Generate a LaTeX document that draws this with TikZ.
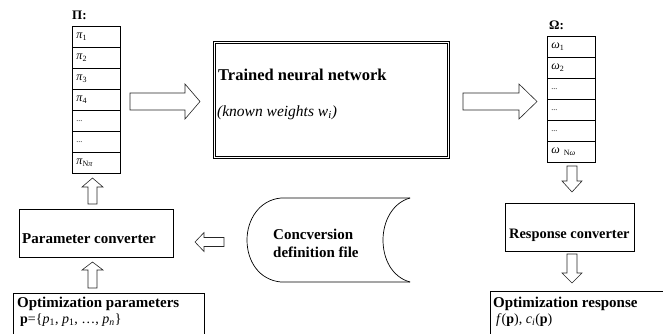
\documentclass[tikz,border=0pt]{standalone}
\usepackage{fontspec}
\setmainfont{Liberation Serif}
\newcommand\BlockArrowH[6]{% x-start, x-tip, x-headbase, y-centre, shaft half-width, head half-width
  \draw[blk] ({#1},{#4-#5}) -- ({#3},{#4-#5}) -- ({#3},{#4-#6}) -- ({#2},{#4})
    -- ({#3},{#4+#6}) -- ({#3},{#4+#5}) -- ({#1},{#4+#5}) -- cycle;}
\newcommand\BlockArrowV[6]{% y-start, y-tip, y-headbase, x-centre, shaft half-width, head half-width
  \draw[blk] ({#4-#5},{#1}) -- ({#4-#5},{#3}) -- ({#4-#6},{#3}) -- ({#4},{#2})
    -- ({#4+#6},{#3}) -- ({#4+#5},{#3}) -- ({#4+#5},{#1}) -- cycle;}
\begin{document}
\begin{tikzpicture}[x=1pt,y=-1pt,
  blk/.style={draw=black!85,line width=0.6pt,fill=white,line join=miter},
  cell/.style={draw,line width=0.7pt,minimum height=21pt,text width=40pt,
    inner xsep=4pt,inner ysep=0pt,align=left,anchor=north west,
    font=\fontsize{12}{14}\selectfont},
  box/.style={draw,line width=0.7pt,anchor=north west,inner sep=0pt},
  lbl/.style={font=\fontsize{15}{17}\selectfont\bfseries,inner sep=0pt,anchor=west},
  sub/.style={font=\fontsize{14}{16}\selectfont,inner sep=0pt,anchor=west},
  head/.style={font=\fontsize{13}{15}\selectfont\bfseries,inner sep=0pt,anchor=west}]
\useasboundingbox (0,0) rectangle (663,333);
\clip (0,0) rectangle (663,333);

% ---- input vector Pi ----
\node[head] (pilab) at (72,15) {Π:};
\node[cell] (p1) at (72,26) {\textit{π}\textsubscript{1}};
\node[cell] (p2) at (72,47) {\textit{π}\textsubscript{2}};
\node[cell] (p3) at (72,68) {\textit{π}\textsubscript{3}};
\node[cell] (p4) at (72,89) {\textit{π}\textsubscript{4}};
\node[cell] (p5) at (72,110) {\fontsize{8}{10}\selectfont ...};
\node[cell] (p6) at (72,131) {\fontsize{8}{10}\selectfont ...};
\node[cell] (p7) at (72,152) {\textit{π}\textsubscript{N\textit{π}}};

% ---- network ----
\node[box,double,double distance=1.6pt,minimum width=234pt,minimum height=115pt] (nn) at (214,42) {};
\node[lbl,font=\fontsize{16.5}{18}\selectfont\bfseries] (nnt) at (218,75) {Trained neural network};
\node[lbl,font=\fontsize{15.5}{18}\selectfont\itshape] (nnw) at (217,113) {(known weights \textit{w}\textsubscript{\textit{i}})};

% ---- output vector Omega ----
\node[head] (omlab) at (549,25) {Ω:};
\node[cell] (o1) at (547,36) {\textit{ω}\textsubscript{1}};
\node[cell] (o2) at (547,57) {\textit{ω}\textsubscript{2}};
\node[cell] (o3) at (547,78) {\fontsize{8}{10}\selectfont ...};
\node[cell] (o4) at (547,99) {\fontsize{8}{10}\selectfont ...};
\node[cell] (o5) at (547,120) {\fontsize{8}{10}\selectfont ...};
\node[cell] (o6) at (547,141) {\textit{ω}\textsubscript{ N\textit{ω}}};

% ---- converters ----
\node[box,minimum width=154pt,minimum height=48pt] (pc) at (19,209) {};
\node[lbl] (pct) at (22,239) {Parameter converter};
\node[box,minimum width=129pt,minimum height=48pt] (rc) at (505,203) {};
\node[lbl,font=\fontsize{14.4}{17}\selectfont\bfseries] (rct) at (509,235) {Response converter};

% ---- conversion definition file (stored data) ----
\draw[line width=0.7pt] (410,198) -- (281,198) .. controls (259,200) and (247,220) .. (247,240)
  .. controls (247,261) and (259,280) .. (281,282) -- (410,282);
\draw[line width=0.7pt] (410,198) .. controls (392,203) and (383,222) .. (383,240)
  .. controls (383,259) and (392,277) .. (410,282);
\node[lbl,align=left,font=\fontsize{15}{18}\selectfont\bfseries] (cdf) at (273,243) {Concversion\\definition file};

% ---- optimisation interface ----
\node[box,minimum width=191pt,minimum height=60pt] (op) at (13,293) {};
\node[lbl] (opt) at (17,304) {Optimization parameters};
\node[sub] (opp) at (20,320) {\textbf{p}=\{\textit{p}\textsubscript{1}, \textit{p}\textsubscript{1}, …, \textit{p}\textsubscript{\textit{n}}\}};
\node[box,minimum width=190pt,minimum height=60pt] (or) at (490,291) {};
\node[lbl] (ort) at (493,304) {Optimization response};
\node[sub] (orp) at (496,320) {\textit{f}(\textbf{p}), \textit{c}\textsubscript{\textit{i}}(\textbf{p})};

% ---- block arrows ----
\BlockArrowH{130}{200}{185}{101.5}{8.5}{17.5}
\BlockArrowH{463}{537}{519}{101.5}{8.5}{17.5}
\BlockArrowH{224}{195}{204}{242}{4.5}{9.5}
\BlockArrowV{204}{178}{187}{92.5}{4.5}{10.5}
\BlockArrowV{288}{262}{270}{92.5}{4.5}{10.5}
\BlockArrowV{166}{192}{181}{572}{5}{10}
\BlockArrowV{254}{283}{273}{572}{5}{10}
\end{tikzpicture}
\end{document}
